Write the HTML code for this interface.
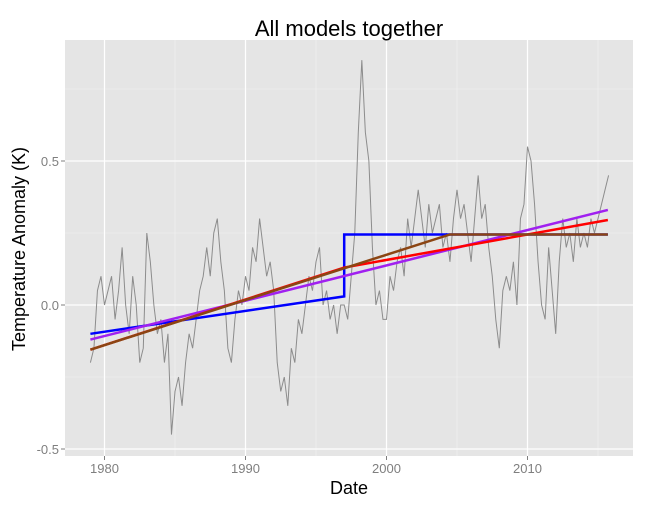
<!DOCTYPE html>
<html><head><meta charset="utf-8"><style>
body{margin:0;background:#fff;font-family:"Liberation Sans",sans-serif}
</style></head><body>
<svg width="648" height="504" xmlns="http://www.w3.org/2000/svg">
<g id="root"></g>
</svg>
<script>
const startYear = 1979.0;
const stepYears = 0.25;
const anomalies = [
-0.2,-0.15,0.05,0.1, 0.0,0.05,0.1,-0.05, 0.05,0.2,0.0,-0.1, 0.1,0.0,-0.2,-0.15,
0.25,0.15,0.0,-0.1, -0.05,-0.2,-0.1,-0.45, -0.3,-0.25,-0.35,-0.2, -0.1,-0.15,-0.05,0.05,
0.1,0.2,0.1,0.25, 0.3,0.15,0.05,-0.15, -0.2,-0.05,0.05,0.0, 0.1,0.05,0.2,0.15,
0.3,0.2,0.1,0.15, 0.05,-0.2,-0.3,-0.25, -0.35,-0.15,-0.2,-0.05, -0.1,0.0,0.1,0.05,
0.15,0.2,0.0,0.05, -0.05,0.0,-0.1,0.0, 0.0,-0.05,0.1,0.25, 0.6,0.85,0.6,0.5,
0.2,0.0,0.05,-0.05, -0.05,0.1,0.05,0.15, 0.2,0.1,0.3,0.2, 0.3,0.4,0.3,0.2,
0.35,0.25,0.3,0.35, 0.2,0.25,0.15,0.3, 0.4,0.3,0.35,0.25, 0.15,0.3,0.45,0.3,
0.35,0.2,0.1,-0.05, -0.15,0.05,0.1,0.05, 0.15,0.0,0.3,0.35, 0.55,0.5,0.35,0.15,
0.0,-0.05,0.2,0.05, -0.1,0.15,0.3,0.2, 0.25,0.15,0.3,0.2, 0.25,0.2,0.3,0.25,
0.3,0.35,0.4,0.45];
const fitBlueX = [1979.0,1997.0,1997.0,2015.7];
const fitBlueY = [-0.1,0.03,0.245,0.245];
const fitPurpleX = [1979.0,2015.7];
const fitPurpleY = [-0.12,0.33];
const fitRedX = [1979.0,1997.0,2015.7];
const fitRedY = [-0.155,0.13,0.295];
const fitBrownX = [1979.0,2004.5,2015.7];
const fitBrownY = [-0.155,0.245,0.245];
const xTicks = [1980,1990,2000,2010];
const yTicks = [-0.5,0.0,0.5];
const yTickLabels = ["-0.5","0.0","0.5"];

const L=65,R=633,T=40,B=456;
const X=v=>104.5+(v-1980)*14.1;
const Y=v=>305-v*288;
const NS="http://www.w3.org/2000/svg";
const root=document.getElementById('root');
function mk(tag,attrs,parent){const e=document.createElementNS(NS,tag);for(const k in attrs)e.setAttribute(k,attrs[k]);(parent||root).appendChild(e);return e;}

let e=mk('rect',{x:L,y:T,width:R-L,height:B-T,fill:'#e5e5e5'});


for(const t of [1985,1995,2005,2015]){e=mk('line',{x1:X(t),x2:X(t),y1:T,y2:B,stroke:'#f2f2f2','stroke-width':0.6});

}
for(const t of [-0.25,0.25,0.75]){e=mk('line',{x1:L,x2:R,y1:Y(t),y2:Y(t),stroke:'#f2f2f2','stroke-width':0.6});

}
xTicks.forEach(t=>{e=mk('line',{x1:X(t),x2:X(t),y1:T,y2:B,stroke:'#fff','stroke-width':1.2});


e=mk('line',{x1:X(t),x2:X(t),y1:B,y2:B+4,stroke:'#7f7f7f'});


e=mk('text',{x:X(t),y:B+17,'text-anchor':'middle','font-size':13,fill:'#7f7f7f'});e.textContent=t;

});
yTicks.forEach((t,i)=>{e=mk('line',{x1:L,x2:R,y1:Y(t),y2:Y(t),stroke:'#fff','stroke-width':1.2});


e=mk('line',{x1:L-4,x2:L,y1:Y(t),y2:Y(t),stroke:'#7f7f7f'});


e=mk('text',{x:L-6,y:Y(t)+5,'text-anchor':'end','font-size':13,fill:'#7f7f7f'});e.textContent=yTickLabels[i];

});

e=mk('polyline',{points:anomalies.map((v,i)=>X(startYear+i*stepYears)+','+Y(v)).join(' '),fill:'none',stroke:'#8c8c8c','stroke-width':1});


function fit(xs,ys,col,w,name){const p=mk('polyline',{points:xs.map((x,i)=>X(x)+','+Y(ys[i])).join(' '),fill:'none',stroke:col,'stroke-width':w});

}
fit(fitBlueX,fitBlueY,'#0000ff',2.5,'step-fit-line');
fit(fitPurpleX,fitPurpleY,'#a020f0',2.5,'linear-fit-line');
fit(fitRedX,fitRedY,'#ff0000',2.5,'broken-trend-fit-line');
fit(fitBrownX,fitBrownY,'#8b4513',2.5,'plateau-fit-line');

e=mk('text',{x:349,y:36,'text-anchor':'middle','font-size':22,fill:'#000'});e.textContent='All models together';


e=mk('text',{x:349,y:494,'text-anchor':'middle','font-size':18,fill:'#000'});e.textContent='Date';


e=mk('text',{x:0,y:0,'text-anchor':'middle','font-size':18,fill:'#000',transform:'translate(25,249) rotate(-90)'});e.textContent='Temperature Anomaly (K)';


</script>
</body></html>
